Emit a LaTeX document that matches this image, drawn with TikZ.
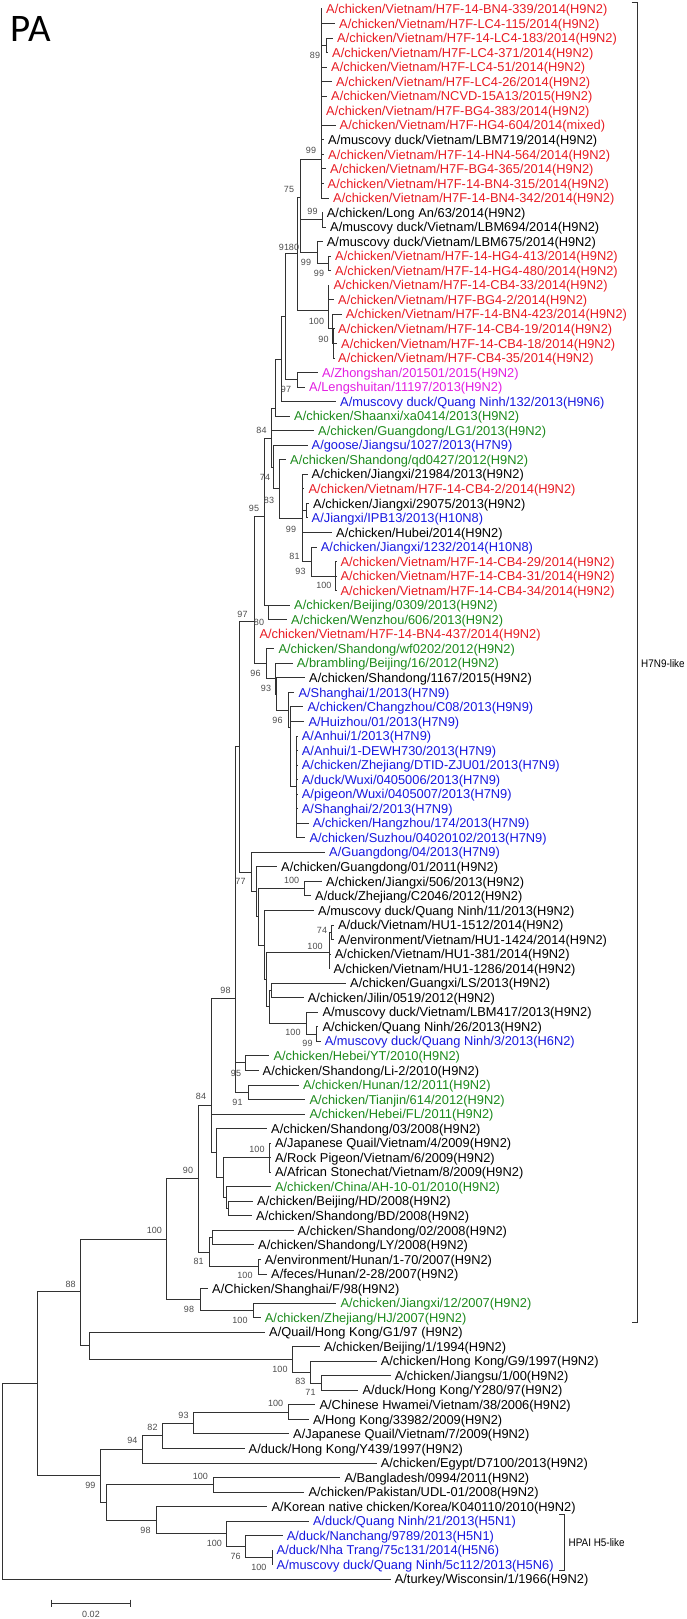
\documentclass[tikz,border=0pt]{standalone}
\usepackage{fontspec}
\setmainfont{Liberation Sans}
\newfontfamily\carlito{Carlito}
\newfontfamily\narrowsans{Liberation Sans}[FakeStretch=0.9]
\definecolor{vnred}{RGB}{232,28,36}
\definecolor{cngreen}{RGB}{28,138,28}
\definecolor{hxblue}{RGB}{24,24,224}
\definecolor{hsmag}{RGB}{226,30,226}
\definecolor{treegray}{RGB}{50,50,50}
\tikzset{
  branch/.style={draw=treegray, line width=1pt},
  leaf/.style={anchor=west, inner xsep=4pt, inner ysep=0pt, text height=10.4pt, text depth=1.2pt, font=\fontsize{12.85}{14}\selectfont},
  bk/.style={leaf, text=black},
  vn/.style={leaf, text=vnred},
  cn/.style={leaf, text=cngreen},
  hx/.style={leaf, text=hxblue},
  hs/.style={leaf, text=hsmag},
  boot/.style={inner sep=0pt, text=black!70, font=\fontsize{9}{10}\selectfont},
  clade/.style={anchor=west, inner sep=0pt, font=\narrowsans\fontsize{11}{12}\selectfont},
}
\begin{document}
\begin{tikzpicture}[x=1pt, y=-1pt]
\useasboundingbox (0,0) rectangle (686,1619);
\node[anchor=base west, inner sep=0pt, font=\carlito\fontsize{39}{40}\selectfont] (title) at (10.5,42) {PA};

% leaves
\node[vn] (l1) at (322,9.0) {A/chicken/Vietnam/H7F-14-BN4-339/2014(H9N2)};
\node[vn] (l2) at (335,23.5) {A/chicken/Vietnam/H7F-LC4-115/2014(H9N2)};
\node[vn] (l3) at (333,38.1) {A/chicken/Vietnam/H7F-14-LC4-183/2014(H9N2)};
\node[vn] (l4) at (328,52.6) {A/chicken/Vietnam/H7F-LC4-371/2014(H9N2)};
\node[vn] (l5) at (327,67.2) {A/chicken/Vietnam/H7F-LC4-51/2014(H9N2)};
\node[vn] (l6) at (332,81.7) {A/chicken/Vietnam/H7F-LC4-26/2014(H9N2)};
\node[vn] (l7) at (327,96.2) {A/chicken/Vietnam/NCVD-15A13/2015(H9N2)};
\node[vn] (l8) at (322,110.8) {A/chicken/Vietnam/H7F-BG4-383/2014(H9N2)};
\node[vn] (l9) at (335.5,125.3) {A/chicken/Vietnam/H7F-HG4-604/2014(mixed)};
\node[bk] (l10) at (324,139.9) {A/muscovy duck/Vietnam/LBM719/2014(H9N2)};
\node[vn] (l11) at (324,154.4) {A/chicken/Vietnam/H7F-14-HN4-564/2014(H9N2)};
\node[vn] (l12) at (326,168.9) {A/chicken/Vietnam/H7F-BG4-365/2014(H9N2)};
\node[vn] (l13) at (323.5,183.5) {A/chicken/Vietnam/H7F-14-BN4-315/2014(H9N2)};
\node[vn] (l14) at (329,198.0) {A/chicken/Vietnam/H7F-14-BN4-342/2014(H9N2)};
\node[bk] (l15) at (322.7,212.6) {A/chicken/Long An/63/2014(H9N2)};
\node[bk] (l16) at (326,227.1) {A/muscovy duck/Vietnam/LBM694/2014(H9N2)};
\node[bk] (l17) at (322.7,241.6) {A/muscovy duck/Vietnam/LBM675/2014(H9N2)};
\node[vn] (l18) at (331,256.2) {A/chicken/Vietnam/H7F-14-HG4-413/2014(H9N2)};
\node[vn] (l19) at (331,270.7) {A/chicken/Vietnam/H7F-14-HG4-480/2014(H9N2)};
\node[vn] (l20) at (329.4,285.3) {A/chicken/Vietnam/H7F-14-CB4-33/2014(H9N2)};
\node[vn] (l21) at (334,299.8) {A/chicken/Vietnam/H7F-BG4-2/2014(H9N2)};
\node[vn] (l22) at (341.6,314.3) {A/chicken/Vietnam/H7F-14-BN4-423/2014(H9N2)};
\node[vn] (l23) at (334,328.9) {A/chicken/Vietnam/H7F-14-CB4-19/2014(H9N2)};
\node[vn] (l24) at (337,343.4) {A/chicken/Vietnam/H7F-14-CB4-18/2014(H9N2)};
\node[vn] (l25) at (334,358.0) {A/chicken/Vietnam/H7F-CB4-35/2014(H9N2)};
\node[hs] (l26) at (318,372.5) {A/Zhongshan/201501/2015(H9N2)};
\node[hs] (l27) at (305,387.0) {A/Lengshuitan/11197/2013(H9N2)};
\node[hx] (l28) at (336,401.6) {A/muscovy duck/Quang Ninh/132/2013(H9N6)};
\node[cn] (l29) at (290,416.1) {A/chicken/Shaanxi/xa0414/2013(H9N2)};
\node[cn] (l30) at (314,430.7) {A/chicken/Guangdong/LG1/2013(H9N2)};
\node[hx] (l31) at (307.5,445.2) {A/goose/Jiangsu/1027/2013(H7N9)};
\node[cn] (l32) at (286,459.7) {A/chicken/Shandong/qd0427/2012(H9N2)};
\node[bk] (l33) at (307.5,474.3) {A/chicken/Jiangxi/21984/2013(H9N2)};
\node[vn] (l34) at (304.4,488.8) {A/chicken/Vietnam/H7F-14-CB4-2/2014(H9N2)};
\node[bk] (l35) at (309,503.4) {A/chicken/Jiangxi/29075/2013(H9N2)};
\node[hx] (l36) at (307.5,517.9) {A/Jiangxi/IPB13/2013(H10N8)};
\node[bk] (l37) at (332,532.4) {A/chicken/Hubei/2014(H9N2)};
\node[hx] (l38) at (316.7,547.0) {A/chicken/Jiangxi/1232/2014(H10N8)};
\node[vn] (l39) at (336.4,561.5) {A/chicken/Vietnam/H7F-14-CB4-29/2014(H9N2)};
\node[vn] (l40) at (336.4,576.1) {A/chicken/Vietnam/H7F-14-CB4-31/2014(H9N2)};
\node[vn] (l41) at (336.4,590.6) {A/chicken/Vietnam/H7F-14-CB4-34/2014(H9N2)};
\node[cn] (l42) at (290,605.1) {A/chicken/Beijing/0309/2013(H9N2)};
\node[cn] (l43) at (287,619.7) {A/chicken/Wenzhou/606/2013(H9N2)};
\node[vn] (l44) at (255.3,634.2) {A/chicken/Vietnam/H7F-14-BN4-437/2014(H9N2)};
\node[cn] (l45) at (274.3,648.8) {A/chicken/Shandong/wf0202/2012(H9N2)};
\node[cn] (l46) at (292.7,663.3) {A/brambling/Beijing/16/2012(H9N2)};
\node[bk] (l47) at (305,677.8) {A/chicken/Shandong/1167/2015(H9N2)};
\node[hx] (l48) at (294.4,692.4) {A/Shanghai/1/2013(H7N9)};
\node[hx] (l49) at (303.3,706.9) {A/chicken/Changzhou/C08/2013(H9N9)};
\node[hx] (l50) at (304.3,721.5) {A/Huizhou/01/2013(H7N9)};
\node[hx] (l51) at (297.7,736.0) {A/Anhui/1/2013(H7N9)};
\node[hx] (l52) at (297.7,750.5) {A/Anhui/1-DEWH730/2013(H7N9)};
\node[hx] (l53) at (297.7,765.1) {A/chicken/Zhejiang/DTID-ZJU01/2013(H7N9)};
\node[hx] (l54) at (297.7,779.6) {A/duck/Wuxi/0405006/2013(H7N9)};
\node[hx] (l55) at (297.7,794.2) {A/pigeon/Wuxi/0405007/2013(H7N9)};
\node[hx] (l56) at (297.7,808.7) {A/Shanghai/2/2013(H7N9)};
\node[hx] (l57) at (308.7,823.2) {A/chicken/Hangzhou/174/2013(H7N9)};
\node[hx] (l58) at (305.3,837.8) {A/chicken/Suzhou/04020102/2013(H7N9)};
\node[hx] (l59) at (325,852.3) {A/Guangdong/04/2013(H7N9)};
\node[bk] (l60) at (277,866.9) {A/chicken/Guangdong/01/2011(H9N2)};
\node[bk] (l61) at (322,881.4) {A/chicken/Jiangxi/506/2013(H9N2)};
\node[bk] (l62) at (311,895.9) {A/duck/Zhejiang/C2046/2012(H9N2)};
\node[bk] (l63) at (314,910.5) {A/muscovy duck/Quang Ninh/11/2013(H9N2)};
\node[bk] (l64) at (333.8,925.0) {A/duck/Vietnam/HU1-1512/2014(H9N2)};
\node[bk] (l65) at (333.8,939.6) {A/environment/Vietnam/HU1-1424/2014(H9N2)};
\node[bk] (l66) at (330.7,954.1) {A/chicken/Vietnam/HU1-381/2014(H9N2)};
\node[bk] (l67) at (329.4,968.6) {A/chicken/Vietnam/HU1-1286/2014(H9N2)};
\node[bk] (l68) at (346,983.2) {A/chicken/Guangxi/LS/2013(H9N2)};
\node[bk] (l69) at (303.6,997.7) {A/chicken/Jilin/0519/2012(H9N2)};
\node[bk] (l70) at (318.4,1012.3) {A/muscovy duck/Vietnam/LBM417/2013(H9N2)};
\node[bk] (l71) at (318.4,1026.8) {A/chicken/Quang Ninh/26/2013(H9N2)};
\node[hx] (l72) at (320.6,1041.3) {A/muscovy duck/Quang Ninh/3/2013(H6N2)};
\node[cn] (l73) at (269.4,1055.9) {A/chicken/Hebei/YT/2010(H9N2)};
\node[bk] (l74) at (258.5,1070.4) {A/chicken/Shandong/Li-2/2010(H9N2)};
\node[cn] (l75) at (298.8,1085.0) {A/chicken/Hunan/12/2011(H9N2)};
\node[cn] (l76) at (305.3,1099.5) {A/chicken/Tianjin/614/2012(H9N2)};
\node[cn] (l77) at (305.3,1114.0) {A/chicken/Hebei/FL/2011(H9N2)};
\node[bk] (l78) at (267,1128.6) {A/chicken/Shandong/03/2008(H9N2)};
\node[bk] (l79) at (270.8,1143.1) {A/Japanese Quail/Vietnam/4/2009(H9N2)};
\node[bk] (l80) at (270.8,1157.7) {A/Rock Pigeon/Vietnam/6/2009(H9N2)};
\node[bk] (l81) at (270.8,1172.2) {A/African Stonechat/Vietnam/8/2009(H9N2)};
\node[cn] (l82) at (270.8,1186.7) {A/chicken/China/AH-10-01/2010(H9N2)};
\node[bk] (l83) at (253,1201.3) {A/chicken/Beijing/HD/2008(H9N2)};
\node[bk] (l84) at (252,1215.8) {A/chicken/Shandong/BD/2008(H9N2)};
\node[bk] (l85) at (293.5,1230.4) {A/chicken/Shandong/02/2008(H9N2)};
\node[bk] (l86) at (254,1244.9) {A/chicken/Shandong/LY/2008(H9N2)};
\node[bk] (l87) at (260.7,1259.4) {A/environment/Hunan/1-70/2007(H9N2)};
\node[bk] (l88) at (267,1274.0) {A/feces/Hunan/2-28/2007(H9N2)};
\node[bk] (l89) at (208,1288.5) {A/Chicken/Shanghai/F/98(H9N2)};
\node[cn] (l90) at (336.4,1303.1) {A/chicken/Jiangxi/12/2007(H9N2)};
\node[cn] (l91) at (260.7,1317.6) {A/chicken/Zhejiang/HJ/2007(H9N2)};
\node[bk] (l92) at (265,1332.1) {A/Quail/Hong Kong/G1/97 (H9N2)};
\node[bk] (l93) at (319.8,1346.7) {A/chicken/Beijing/1/1994(H9N2)};
\node[bk] (l94) at (376.6,1361.2) {A/chicken/Hong Kong/G9/1997(H9N2)};
\node[bk] (l95) at (390.6,1375.8) {A/chicken/Jiangsu/1/00(H9N2)};
\node[bk] (l96) at (358.3,1390.3) {A/duck/Hong Kong/Y280/97(H9N2)};
\node[bk] (l97) at (315.4,1404.8) {A/Chinese Hwamei/Vietnam/38/2006(H9N2)};
\node[bk] (l98) at (308.8,1419.4) {A/Hong Kong/33982/2009(H9N2)};
\node[bk] (l99) at (289,1433.9) {A/Japanese Quail/Vietnam/7/2009(H9N2)};
\node[bk] (l100) at (244.5,1448.5) {A/duck/Hong Kong/Y439/1997(H9N2)};
\node[bk] (l101) at (376.6,1463.0) {A/chicken/Egypt/D7100/2013(H9N2)};
\node[bk] (l102) at (340.3,1477.5) {A/Bangladesh/0994/2011(H9N2)};
\node[bk] (l103) at (304.4,1492.1) {A/chicken/Pakistan/UDL-01/2008(H9N2)};
\node[bk] (l104) at (267.3,1506.6) {A/Korean native chicken/Korea/K040110/2010(H9N2)};
\node[hx] (l105) at (308.8,1521.2) {A/duck/Quang Ninh/21/2013(H5N1)};
\node[hx] (l106) at (282.6,1535.7) {A/duck/Nanchang/9789/2013(H5N1)};
\node[hx] (l107) at (272.5,1550.2) {A/duck/Nha Trang/75c131/2014(H5N6)};
\node[hx] (l108) at (272.5,1564.8) {A/muscovy duck/Quang Ninh/5c112/2013(H5N6)};
\node[bk] (l109) at (390.6,1579.3) {A/turkey/Wisconsin/1/1966(H9N2)};

% internal nodes
\coordinate (n1) at (321,159);     \coordinate (n1a) at (326.5,45.3);
\coordinate (n2) at (322,219.8);   \coordinate (n3) at (300,197);
\coordinate (n4) at (297,253.8);   \coordinate (n5) at (317,252.5);
\coordinate (n6) at (328.3,263.4); \coordinate (n7) at (328.3,310);
\coordinate (n8) at (332,328.9);   \coordinate (n9) at (333.5,343.4);
\coordinate (n11) at (285,316.6);  \coordinate (n12) at (297.5,379.8);
\coordinate (n13) at (281,359.1);  \coordinate (n14) at (275,408);
\coordinate (n15) at (271.7,438);  \coordinate (n16) at (273.3,467);
\coordinate (n17) at (264,516);    \coordinate (n18) at (279,488.9);
\coordinate (n19) at (302,518);    \coordinate (n20) at (268.3,605);
\coordinate (n21) at (306,510.6);  \coordinate (n22) at (311.5,561.8);
\coordinate (n23) at (335.5,576.1);
\coordinate (n26) at (266,663.3);  \coordinate (n27) at (288.3,710);
\coordinate (n28) at (296.5,786.9);\coordinate (n29) at (290.5,727.6);
\coordinate (n31) at (275,678.6);  \coordinate (n32) at (276.7,694);
\coordinate (n33) at (254,621.7);  \coordinate (n34) at (239.3,746.7);
\coordinate (n35) at (251.6,872.1);\coordinate (n36) at (304,888.7);
\coordinate (n37) at (329,952);    \coordinate (n37a) at (331.6,932.3);
\coordinate (n38) at (271,990.5);  \coordinate (n39) at (306,1023.2);
\coordinate (n39a) at (316,1034);  \coordinate (n41) at (269,1006.9);
\coordinate (n42) at (266.5,979.5);\coordinate (n43) at (264.7,945);
\coordinate (n44) at (258,916.9);  \coordinate (n45) at (256,891.9);
\coordinate (n46) at (235.5,998.3);\coordinate (n47) at (245,1062.3);
\coordinate (n48) at (248.3,1092); \coordinate (n49) at (211.7,1105);
\coordinate (n51) at (269,1157.7); \coordinate (n52) at (228.3,1208.6);
\coordinate (n53) at (226.7,1197.6);\coordinate (n54) at (223.3,1177.2);
\coordinate (n55) at (216.7,1152.9);\coordinate (n56) at (198.8,1178.3);
\coordinate (n57) at (166.3,1239); \coordinate (n58) at (209,1252.2);
\coordinate (n59) at (212,1237.7); \coordinate (n60) at (258,1266.7);
\coordinate (n62) at (253,1310.3); \coordinate (n63) at (200.4,1299.4);
\coordinate (n64) at (80,1291.7);  \coordinate (n65) at (292.3,1359.4);
\coordinate (n66) at (89.7,1345.6);\coordinate (n67) at (310.6,1372.1);
\coordinate (n68) at (321.6,1383); \coordinate (n70) at (142.2,1449.4);
\coordinate (n71) at (162.75,1435.75);\coordinate (n72) at (193.8,1423);
\coordinate (n73) at (288.75,1412.1);\coordinate (n74) at (106.3,1502.5);
\coordinate (n75) at (213,1484.8); \coordinate (n76) at (156.6,1520.2);
\coordinate (n77) at (226.6,1533.9);\coordinate (n78) at (245.9,1546.6);
\coordinate (n79) at (272.1,1557.5);\coordinate (n80) at (100.6,1475.9);
\coordinate (n81) at (37.5,1383.5);\coordinate (root) at (2.2,1481.5);

% branches
\foreach \p/\c in {root/n81, root/l109, n81/n64, n81/n80,
  n64/n57, n64/n66, n57/n56, n57/n63, n56/n49, n56/n58,
  n49/n46, n49/l77, n49/n55, n46/n34, n46/n47, n46/n48,
  n34/n33, n34/n35, n33/n17, n33/l44, n33/n26,
  n17/n15, n17/n20, n15/n14, n15/l30, n15/n16, n14/n13, n14/l29,
  n13/n11, n13/l28, n11/n4, n11/n12, n4/n3, n4/n7,
  n3/n1, n3/n2, n3/n5, n1/l1, n1/l2, n1/n1a, n1a/l3, n1a/l4,
  n1/l5, n1/l6, n1/l7, n1/l8, n1/l9, n1/l10, n1/l11, n1/l12, n1/l13, n1/l14,
  n2/l15, n2/l16, n5/l17, n5/n6, n6/l18, n6/l19,
  n7/l20, n7/l21, n7/n8, n8/l22, n8/n9, n9/l23, n9/l24, n9/l25,
  n12/l26, n12/l27, n16/l31, n16/n18, n18/l32, n18/n19,
  n19/l33, n19/l34, n19/n21, n19/l37, n19/n22, n21/l35, n21/l36,
  n22/l38, n22/n23, n23/l39, n23/l40, n23/l41, n20/l42, n20/l43,
  n26/l45, n26/n31, n31/l46, n31/n32, n32/l47, n32/n27,
  n27/l48, n27/n29, n29/l49, n29/l50, n29/n28,
  n28/l51, n28/l52, n28/l53, n28/l54, n28/l55, n28/l56, n28/l57, n28/l58,
  n35/l59, n35/n45, n45/l60, n45/n44, n44/n36, n44/n43, n36/l61, n36/l62,
  n43/l63, n43/n42, n42/n37, n42/n41, n37/n37a, n37/l66, n37/l67,
  n37a/l64, n37a/l65, n41/n38, n41/n39, n38/l68, n38/l69,
  n39/l70, n39/n39a, n39a/l71, n39a/l72,
  n47/l73, n47/l74, n48/l75, n48/l76,
  n55/l78, n55/n54, n54/n51, n54/n53, n51/l79, n51/l80, n51/l81,
  n53/l82, n53/n52, n52/l83, n52/l84,
  n58/n59, n58/n60, n59/l85, n59/l86, n60/l87, n60/l88,
  n63/l89, n63/n62, n62/l90, n62/l91,
  n66/l92, n66/n65, n65/l93, n65/n67, n67/l94, n67/n68, n68/l95, n68/l96,
  n80/n70, n80/n74, n70/n71, n70/l101, n71/n72, n71/l100,
  n72/n73, n72/l99, n73/l97, n73/l98,
  n74/n75, n74/n76, n75/l102, n75/l103, n76/l104, n76/n77,
  n77/l105, n77/n78, n78/l106, n78/n79, n79/l107, n79/l108}
  \draw[branch] (\p) |- (\c);

% bootstrap values
\foreach \bx/\by/\bv [count=\k] in {315/55/89, 311/150/99, 312.5/211.7/99, 289/189/75,
  284/247/91, 294/247/80, 306/262.3/99, 319/273.3/99, 316.5/321.7/100, 323.5/339.3/90,
  286/389.3/97, 261.5/430.5/84, 265/477/74, 269/500/83, 254/508.3/95, 291/529/99,
  294.5/556.7/81, 300.5/571.7/93, 323.8/585.7/100, 242.5/614/97, 259/622/80,
  255.5/673.3/96, 266/688.3/93, 277.5/720.7/96, 240.5/881.7/77, 291.7/880/100,
  322/930.7/74, 315/946/100, 225.5/990/98, 293/1032.7/100, 307.5/1043/99,
  236/1073.3/95, 201/1096.7/84, 237.5/1102.5/91, 257/1149.3/100, 188/1170/90,
  154.3/1230.7/100, 198.6/1261.7/81, 245/1275/100, 189/1309.3/98, 240/1320/100,
  70.7/1284/88, 280/1369.3/100, 300.4/1381.7/83, 310.5/1392.7/71, 275.7/1403.3/100,
  183.5/1415/93, 152.5/1427.3/82, 132.4/1440/94, 90.3/1485/99, 200.3/1476/100,
  145.5/1530/98, 214.3/1543.3/100, 235.6/1556.7/76, 258.8/1567.7/100}
  \node[boot] (bs\k) at (\bx,\by) {\bv};

% clade brackets
\coordinate (ha0) at (631.7,2.7);   \coordinate (ha) at (637.3,2.7);
\coordinate (hb) at (637.3,1322.7); \coordinate (hb0) at (631.7,1322.7);
\draw[branch] (ha0) -- (ha) -- (hb) -- (hb0);
\node[clade] (h7n9) at (641,663.3) {H7N9-like};
\coordinate (pa0) at (559,1514.3);  \coordinate (pa) at (564.4,1514.3);
\coordinate (pb) at (564.4,1570.7); \coordinate (pb0) at (559,1570.7);
\draw[branch] (pa0) -- (pa) -- (pb) -- (pb0);
\node[clade] (hpai) at (568.5,1542.3) {HPAI H5-like};

% scale bar
\coordinate (sb1) at (51.6,1603.3); \coordinate (sb2) at (130.4,1603.3);
\draw[branch, line width=1.3pt] (sb1) -- (sb2);
\draw[branch, line width=1.3pt] ([yshift=3.7pt]sb1) -- ([yshift=-3.7pt]sb1);
\draw[branch, line width=1.3pt] ([yshift=3.7pt]sb2) -- ([yshift=-3.7pt]sb2);
\node[boot] (sblabel) at (91,1614.5) {0.02};
\end{tikzpicture}
\end{document}
